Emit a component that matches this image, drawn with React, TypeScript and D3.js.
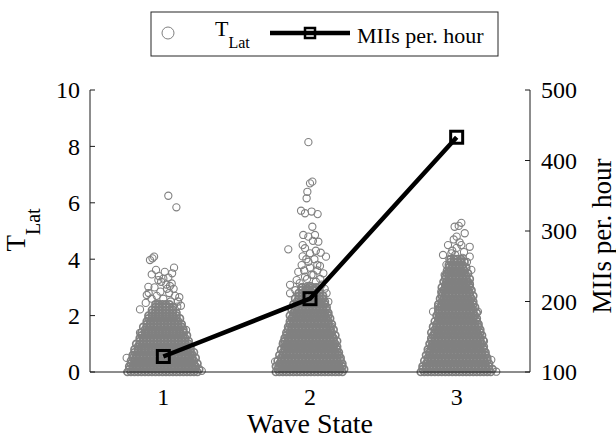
import React from 'react';
import * as d3 from 'd3';

// ---------- data ----------
const waveStates = [1, 2, 3];
const waveStateLabels = ['1', '2', '3'];
const miisPerHour = [122, 204, 433];
const leftTicks = [0, 2, 4, 6, 8, 10];
const rightTicks = [100, 200, 300, 400, 500];

// T_Lat histogram of the dense core of each wave state (bins of 0.1, starting at 0)
const binStep = 0.1;
const state1BinCounts = [21, 21, 20, 20, 19, 19, 18, 18, 17, 16, 16, 15, 14, 14, 13, 12, 12, 11, 10, 10, 9, 8, 7, 6, 5];
const state2BinCounts = [20, 20, 20, 19, 19, 18, 18, 17, 17, 16, 16, 16, 15, 15, 14, 14, 13, 13, 12, 12, 12, 11, 11, 10, 10, 9, 9, 8, 7, 6, 5];
const state3BinCounts = [21, 21, 20, 19, 19, 18, 18, 17, 17, 16, 16, 16, 15, 15, 15, 14, 14, 13, 13, 12, 12, 12, 11, 11, 11, 10, 10, 10, 9, 9, 9, 8, 8, 8, 7, 7, 6, 6, 5, 5, 4];

// sparse T_Lat samples: [x jitter, T_Lat]
const state1Sparse: [number, number][] = [
  [0.034, 6.25], [0.089, 5.84], [-0.091, 3.97], [-0.074, 4.03], [-0.063, 4.09], [0.073, 3.7], [-0.05, 3.62],
  [-0.079, 3.46], [0, 3.31], [0.034, 3.35], [-0.034, 3.26], [-0.102, 3.02], [0.057, 3.14], [-0.113, 2.73],
  [0.109, 2.65], [-0.159, 2.22], [0.095, 2.32], [-0.159, 1.39], [0.155, 1.49], [0.194, 0.66], [0.262, 0.04],
  [-0.25, 0.5], [-0.06, 3.0], [0.02, 3.1], [0.07, 2.95], [-0.02, 2.85], [0.04, 2.8], [-0.08, 2.6], [0.1, 2.5],
  [-0.12, 2.45], [0, 2.6], [0.05, 2.5], [-0.04, 2.4], [0.08, 2.7], [-0.1, 2.8], [0.12, 2.35], [-0.03, 3.4],
  [0.01, 3.55], [0.06, 3.5], [-0.045, 2.7], [0.025, 2.95], [-0.015, 3.2], [0.045, 3.05],
];
const state2Sparse: [number, number][] = [
  [-0.011, 8.15], [0.016, 6.75], [0, 6.69], [-0.018, 6.39], [-0.023, 6.16], [-0.061, 5.72], [-0.034, 5.63],
  [0.011, 5.69], [0.052, 5.6], [0.016, 5.15], [-0.046, 4.86], [-0.011, 4.8], [0.034, 4.86], [0.057, 4.62],
  [-0.148, 4.35], [-0.034, 4.39], [0, 4.21], [0.073, 4.23], [0.109, 4.09], [-0.057, 3.79], [-0.011, 3.91],
  [0.068, 3.76], [0.091, 3.5], [0.023, 3.44], [-0.034, 3.38], [-0.136, 3.09], [-0.091, 3.26], [0.113, 2.79],
  [0.125, 2.49], [-0.136, 2.79], [-0.182, 1.07], [0.148, 1.61], [-0.238, 0.37], [0.182, 0.66],
  [0.04, 3.2], [-0.06, 3.0], [0, 3.05], [0.08, 3.1], [-0.02, 3.3], [0.05, 3.6], [-0.08, 3.55], [0.03, 4.0],
  [-0.05, 4.1], [0, 3.7], [-0.02, 2.95], [0.03, 2.9], [0.06, 3.0], [-0.07, 3.15], [0.01, 3.45], [-0.04, 3.6],
  [0.05, 3.8], [-0.025, 4.0], [0.04, 4.3], [-0.05, 4.5], [0.02, 4.65], [0.07, 3.3], [-0.1, 2.9], [0.1, 2.95],
];
const state3Sparse: [number, number][] = [
  [0.032, 5.29], [-0.014, 5.15], [0.014, 5.18], [0.055, 4.92], [0, 4.8], [-0.059, 4.5], [0.032, 4.5],
  [0.089, 4.44], [-0.093, 4.15], [0.089, 4.09], [-0.036, 4.21], [0.1, 3.62], [-0.082, 3.44], [0.089, 3.14],
  [-0.105, 2.85], [-0.161, 2.14], [-0.127, 2.32], [0.145, 2.14], [-0.161, 1.61], [-0.195, 0.72], [0.18, 1.13],
  [0.236, 0.43], [0.27, 0.01], [0, 4.4], [0.02, 4.6], [-0.03, 4.3], [0.05, 4.25], [-0.05, 4.0], [0.07, 3.9],
  [-0.07, 3.8], [0.03, 3.95], [-0.02, 4.7], [0.04, 4.05], [-0.01, 4.15],
];

const stateCores = [state1BinCounts, state2BinCounts, state3BinCounts];
const stateSparse = [state1Sparse, state2Sparse, state3Sparse];

// ---------- layout ----------
const W = 616;
const H = 440;
const left = 90;
const right = 530;
const top = 90;
const bottom = 372;
const dotSpacingPx = 3.5;
const font = '"Liberation Serif", "Times New Roman", Times, serif';
const gray = '#808080';
const axisColor = '#1a1a1a';

export default function App() {
  const x = d3.scaleLinear().domain([0.5, 3.5]).range([left, right]);
  const yL = d3.scaleLinear().domain([0, 10]).range([bottom, top]);
  const yR = d3.scaleLinear().domain([100, 500]).range([bottom, top]);

  const coreDots: { cx: number; cy: number }[] = [];
  const sparseDots: { cx: number; cy: number }[] = [];
  waveStates.forEach((s, si) => {
    stateCores[si].forEach((n, i) => {
      const v = i * binStep;
      const shift = i % 2 === 0 ? -0.25 : 0.25;
      for (let k = 0; k < n; k++) {
        coreDots.push({ cx: x(s) + (k - (n - 1) / 2 + shift) * dotSpacingPx, cy: yL(v) });
      }
    });
    stateSparse[si].forEach(([j, v]) => sparseDots.push({ cx: x(s + j), cy: yL(v) }));
  });

  const line = d3
    .line<number>()
    .x((_, i) => x(waveStates[i]))
    .y((d) => yR(d));

  return (
    <svg width={W} height={H} style={{ position: 'absolute', left: 0, top: 0, background: '#fff', fontFamily: font }}>
      <rect x={0} y={0} width={W} height={H} fill="#fff" />
      {/* scatter */}
      <g fill="none" stroke={gray} strokeWidth={1.7}>
        {coreDots.map((d, i) => (
          <circle key={i} cx={d.cx} cy={d.cy} r={3.5} />
        ))}
      </g>
      <g fill="none" stroke={gray} strokeWidth={1.1}>
        {sparseDots.map((d, i) => (
          <circle key={i} cx={d.cx} cy={d.cy} r={3.6} />
        ))}
      </g>

      {/* axes */}
      <g stroke={axisColor} strokeWidth={1} fill="none">
        <line x1={left} y1={top} x2={left} y2={bottom} />
        <line x1={right} y1={top} x2={right} y2={bottom} />
        <line x1={left} y1={bottom} x2={right} y2={bottom} />
        {leftTicks.map((t) => (
          <line key={'lt' + t} x1={left} x2={left + 5} y1={yL(t)} y2={yL(t)} />
        ))}
        {rightTicks.map((t) => (
          <line key={'rt' + t} x1={right - 5} x2={right} y1={yR(t)} y2={yR(t)} />
        ))}
      </g>
      <g fontSize={24} fill="#000">
        {leftTicks.map((t) => (
          <text key={'ll' + t} x={left - 10} y={yL(t)} dy="0.35em" textAnchor="end">
            {t}
          </text>
        ))}
        {rightTicks.map((t) => (
          <text key={'rl' + t} x={right + 11} y={yR(t)} dy="0.35em" textAnchor="start">
            {t}
          </text>
        ))}
        {waveStates.map((s, i) => (
          <text key={'xl' + s} x={x(s)} y={405} textAnchor="middle">
            {waveStateLabels[i]}
          </text>
        ))}
      </g>

      {/* MIIs line */}
      <path d={line(miisPerHour) || ''} fill="none" stroke="#000" strokeWidth={4.5} strokeLinejoin="round" />
      {miisPerHour.map((m, i) => (
        <rect key={'sq' + i} x={x(waveStates[i]) - 6} y={yR(m) - 6} width={12} height={12} fill="none" stroke="#000" strokeWidth={3} />
      ))}

      {/* axis labels */}
      <text x={(left + right) / 2} y={433} textAnchor="middle" fontSize={28} fill="#000">
        Wave State
      </text>
      <text transform={`translate(25,230) rotate(-90)`} textAnchor="middle" fontSize={27} fill="#000">
        T<tspan dy={15} fontSize={20}>Lat</tspan>
      </text>
      <text transform={`translate(611,236) rotate(-90)`} textAnchor="middle" fontSize={27} fill="#000">
        MIIs per. hour
      </text>

      {/* legend */}
      <rect x={151} y={12} width={347} height={44} fill="#fff" stroke="#262626" strokeWidth={1} />
      <circle cx={168} cy={33} r={6} fill="none" stroke={gray} strokeWidth={1} />
      <text x={215} y={36} fontSize={22} fill="#000">
        T<tspan dy={12} fontSize={16}>Lat</tspan>
      </text>
      <line x1={270} x2={350} y1={33} y2={33} stroke="#000" strokeWidth={4.5} />
      <rect x={305} y={28} width={10} height={10} fill="none" stroke="#000" strokeWidth={2.5} />
      <text x={357} y={43} fontSize={22} fill="#000">
        MIIs per. hour
      </text>
    </svg>
  );
}
